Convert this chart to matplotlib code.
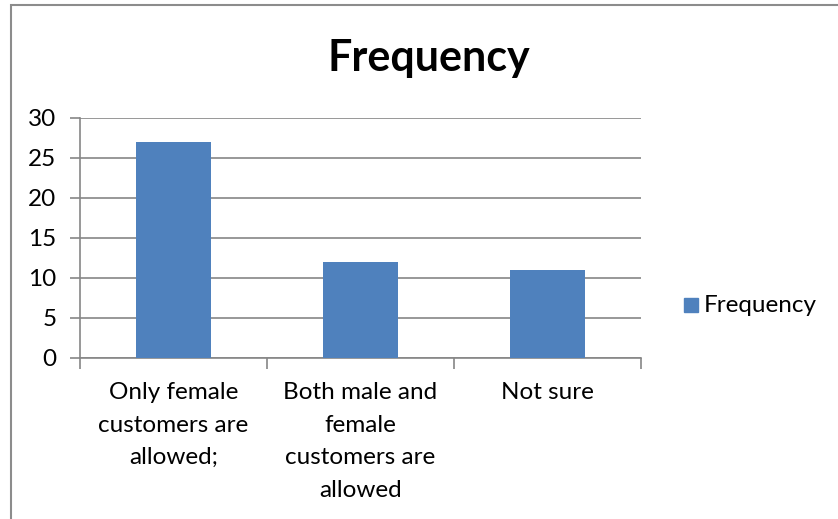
import matplotlib
matplotlib.use("Agg")
import matplotlib.pyplot as plt
from matplotlib.patches import Rectangle

categories = ["Only female\ncustomers are\nallowed;",
              "Both male and\nfemale\ncustomers are\nallowed",
              "Not sure"]
frequency = [27, 12, 11]
y_ticks = [0, 5, 10, 15, 20, 25, 30]
series_name = "Frequency"

W, H = 838, 519
fig = plt.figure(figsize=(W / 100, H / 100), dpi=100)
plt.rcParams["font.family"] = ["Lato", "DejaVu Sans"]

# outer chart frame
fig.patches.append(Rectangle((11 / W, -0.1), 1.2, 1 - 5 / H + 0.1,
                             transform=fig.transFigure, fill=False,
                             edgecolor="#8c8c8c", linewidth=1.5))

ax = fig.add_axes([80 / W, 1 - 358 / H, (641 - 80) / W, (358 - 118) / H])
x = range(len(categories))
bars = ax.bar(x, frequency, width=0.4, color="#4F81BD", label=series_name, zorder=3)
ax.set_xlim(-0.5, len(categories) - 0.5)
ax.set_ylim(0, 30)
ax.set_yticks(y_ticks)
ax.yaxis.grid(True, color="#868686", linewidth=1.2, zorder=0)
for s in ["top", "right"]:
    ax.spines[s].set_visible(False)
for s in ["left", "bottom"]:
    ax.spines[s].set_color("#868686")
    ax.spines[s].set_linewidth(1.2)
ax.tick_params(axis="y", length=7, width=1.2, color="#868686", labelsize=17.5, pad=10)
ax.set_xticks([-0.5, 0.5, 1.5, 2.5])
ax.set_xticklabels([])
ax.tick_params(axis="x", length=8, width=1.2, color="#868686")
for i, lab in enumerate(categories):
    ax.text(i, -3.0, lab, ha="center", va="top", fontsize=17.5,
            linespacing=1.68, transform=ax.transData)

fig.text(429 / W, 1 - 58 / H, "Frequency", ha="center", va="center",
         fontsize=31, fontweight="bold")

# legend entry
ax_leg = fig.add_axes([0, 0, 1, 1], facecolor="none")
ax_leg.set_axis_off()
ax_leg.set_xlim(0, W)
ax_leg.set_ylim(H, 0)
ax_leg.add_patch(Rectangle((684, 298), 14, 14, color="#4F81BD"))
ax_leg.text(704, 306, series_name, va="center", ha="left", fontsize=17.5)

fig.savefig("out.png", dpi=100)
